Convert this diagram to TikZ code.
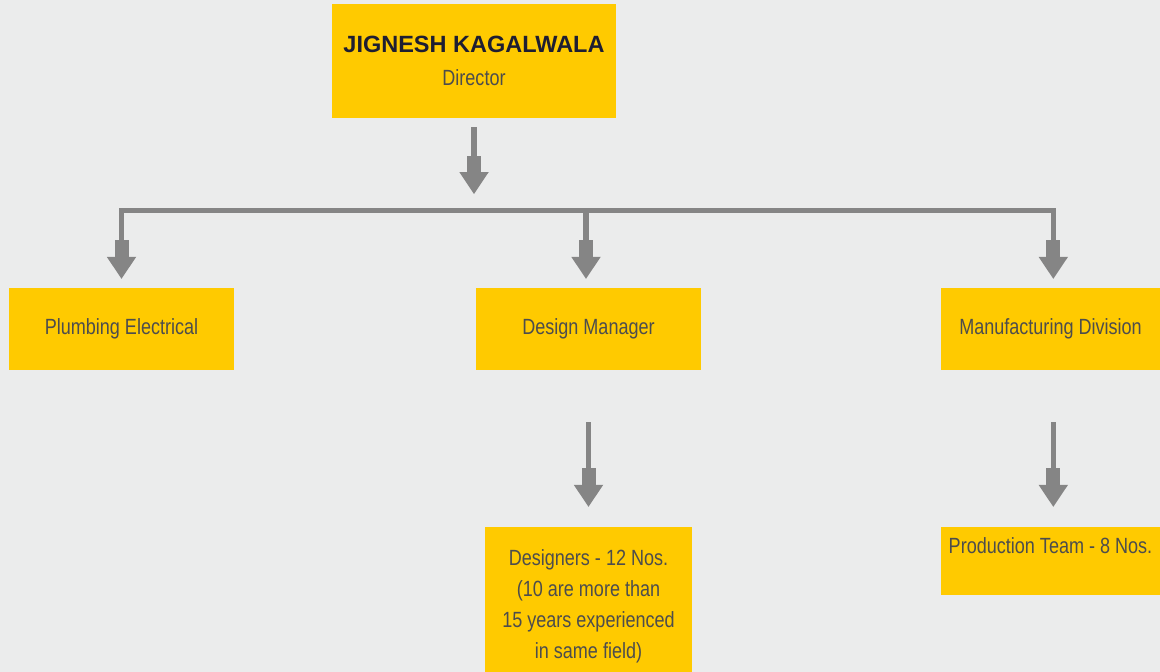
\documentclass[tikz,border=0pt]{standalone}
\usepackage{fontspec}
\setmainfont{Liberation Sans}
\newfontfamily\condfont[FakeStretch=0.82]{Liberation Sans}
\usetikzlibrary{arrows.meta}
\definecolor{bgc}{HTML}{EBECEC}
\definecolor{boxc}{HTML}{FFCA00}
\definecolor{arrc}{HTML}{858585}
\definecolor{txtc}{HTML}{4D4D4D}
\definecolor{namec}{HTML}{1E1E32}
\newcommand{\namefont}{\normalfont\bfseries\fontsize{23.5}{33}\selectfont\color{namec}}
\tikzset{
  box/.style={fill=boxc, draw=none, inner sep=0pt, align=center, text=txtc,
    font=\condfont\fontsize{22}{31}\selectfont},
  conn/.style={draw=arrc, line width=5.5pt,
    -{Rectangle[width=14pt,length=16.5pt,line width=0pt,sep=0pt]Triangle[width=29.5pt,length=22pt,line width=0pt,sep=0pt]}},
  bus/.style={draw=arrc, line width=5pt, line cap=rect}
}
\begin{document}
\begin{tikzpicture}[x=1pt,y=-1pt]
\fill[bgc] (0,0) rectangle (1160,672);
\useasboundingbox (0,0) rectangle (1160,672);

% nodes
\node[box, minimum width=284pt, minimum height=114pt,
      font=\condfont\fontsize{22}{33}\selectfont] (dir) at (474,61)
  {{\namefont JIGNESH KAGALWALA}\\Director};
\node[box, minimum width=225pt, minimum height=82pt] (pe) at (121.5,329) {Plumbing Electrical};
\node[box, minimum width=225pt, minimum height=82pt] (dm) at (588.5,329) {Design Manager};
\node[box, minimum width=219pt, minimum height=82pt] (md) at (1050.5,329) {Manufacturing Division};
\node[box, minimum width=207pt, minimum height=145pt] (des) at (588.5,599.5)
  {\rule{0pt}{30pt}Designers - 12 Nos.\\(10 are more than\\15 years experienced\\in same field)};
\node[box, minimum width=219pt, minimum height=68pt, text height=26pt, text depth=42pt] (pt) at (1050.5,561)
  {Production Team - 8 Nos.};

% bus coordinates
\coordinate (busT) at (474,210.5);
\coordinate (busL) at (121.5,210.5);
\coordinate (busM) at (586,210.5);
\coordinate (busR) at (1053.3,210.5);

% connectors
\draw[conn, shorten <=9pt, shorten >=16.5pt] (dir.south) -- (busT);
\draw[bus] (busL) -- (busR);
\draw[conn, shorten >=9pt] (busL) -- (busL |- pe.north);
\draw[conn, shorten >=9pt] (busM) -- (busM |- dm.north);
\draw[conn, shorten >=9pt] (busR) -- (busR |- md.north);
\draw[conn, shorten <=52pt, shorten >=20pt] (dm.south) -- (des.north);
\draw[conn, shorten <=52pt, shorten >=20pt] (busR |- md.south) -- (busR |- pt.north);
\end{tikzpicture}
\end{document}
